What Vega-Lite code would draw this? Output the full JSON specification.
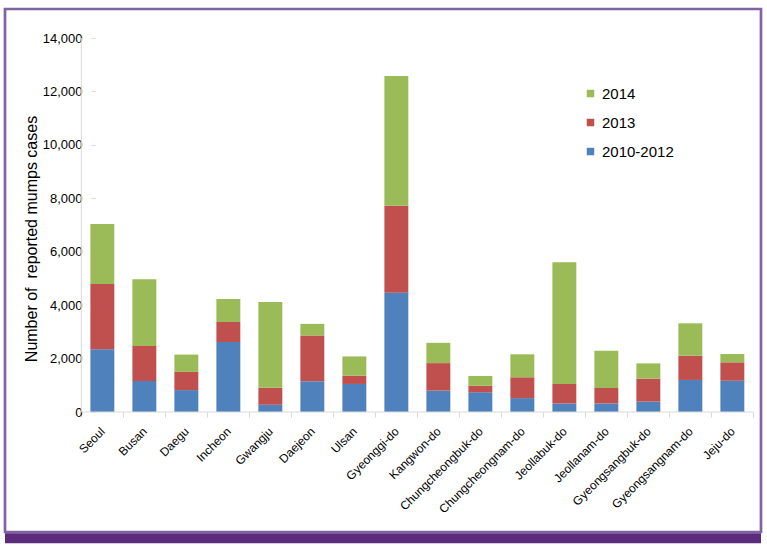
{
  "$schema": "https://vega.github.io/schema/vega-lite/v6.json",
  "width": 756,
  "height": 523,
  "autosize": {"type": "none"},
  "padding": {"left": 5, "top": 9, "right": 6, "bottom": 15},
  "background": "white",
  "config": {
    "font": "Liberation Sans",
    "view": {"stroke": "#8064A2", "strokeWidth": 2.7, "fill": "white"}
  },
  "data": {
    "values": [
      {"region": "Seoul", "series": "2010-2012", "cases": 2350},
      {"region": "Seoul", "series": "2013", "cases": 2440},
      {"region": "Seoul", "series": "2014", "cases": 2250},
      {"region": "Busan", "series": "2010-2012", "cases": 1160},
      {"region": "Busan", "series": "2013", "cases": 1310},
      {"region": "Busan", "series": "2014", "cases": 2500},
      {"region": "Daegu", "series": "2010-2012", "cases": 820},
      {"region": "Daegu", "series": "2013", "cases": 680},
      {"region": "Daegu", "series": "2014", "cases": 650},
      {"region": "Incheon", "series": "2010-2012", "cases": 2620},
      {"region": "Incheon", "series": "2013", "cases": 750},
      {"region": "Incheon", "series": "2014", "cases": 860},
      {"region": "Gwangju", "series": "2010-2012", "cases": 270},
      {"region": "Gwangju", "series": "2013", "cases": 640},
      {"region": "Gwangju", "series": "2014", "cases": 3210},
      {"region": "Daejeon", "series": "2010-2012", "cases": 1150},
      {"region": "Daejeon", "series": "2013", "cases": 1710},
      {"region": "Daejeon", "series": "2014", "cases": 440},
      {"region": "Ulsan", "series": "2010-2012", "cases": 1050},
      {"region": "Ulsan", "series": "2013", "cases": 310},
      {"region": "Ulsan", "series": "2014", "cases": 720},
      {"region": "Gyeonggi-do", "series": "2010-2012", "cases": 4460},
      {"region": "Gyeonggi-do", "series": "2013", "cases": 3260},
      {"region": "Gyeonggi-do", "series": "2014", "cases": 4860},
      {"region": "Kangwon-do", "series": "2010-2012", "cases": 800},
      {"region": "Kangwon-do", "series": "2013", "cases": 1030},
      {"region": "Kangwon-do", "series": "2014", "cases": 760},
      {"region": "Chungcheongbuk-do", "series": "2010-2012", "cases": 740},
      {"region": "Chungcheongbuk-do", "series": "2013", "cases": 240},
      {"region": "Chungcheongbuk-do", "series": "2014", "cases": 370},
      {"region": "Chungcheongnam-do", "series": "2010-2012", "cases": 520},
      {"region": "Chungcheongnam-do", "series": "2013", "cases": 780},
      {"region": "Chungcheongnam-do", "series": "2014", "cases": 860},
      {"region": "Jeollabuk-do", "series": "2010-2012", "cases": 320},
      {"region": "Jeollabuk-do", "series": "2013", "cases": 730},
      {"region": "Jeollabuk-do", "series": "2014", "cases": 4560},
      {"region": "Jeollanam-do", "series": "2010-2012", "cases": 320},
      {"region": "Jeollanam-do", "series": "2013", "cases": 580},
      {"region": "Jeollanam-do", "series": "2014", "cases": 1390},
      {"region": "Gyeongsangbuk-do", "series": "2010-2012", "cases": 390},
      {"region": "Gyeongsangbuk-do", "series": "2013", "cases": 860},
      {"region": "Gyeongsangbuk-do", "series": "2014", "cases": 570},
      {"region": "Gyeongsangnam-do", "series": "2010-2012", "cases": 1200},
      {"region": "Gyeongsangnam-do", "series": "2013", "cases": 910},
      {"region": "Gyeongsangnam-do", "series": "2014", "cases": 1210},
      {"region": "Jeju-do", "series": "2010-2012", "cases": 1170},
      {"region": "Jeju-do", "series": "2013", "cases": 690},
      {"region": "Jeju-do", "series": "2014", "cases": 310}
    ]
  },
  "layer": [
    {
      "data": {"values": [{}]},
      "mark": {"type": "rule", "color": "#5B2C7B", "strokeWidth": 10},
      "encoding": {"y": {"datum": -4728, "type": "quantitative"}}
    },
    {
      "mark": {"type": "bar", "width": {"band": 0.57}},
      "encoding": {
        "x": {
          "field": "region",
          "type": "nominal",
          "sort": null,
          "scale": {"paddingInner": 0, "paddingOuter": 1.206, "align": 0.909},
          "axis": {
            "title": null,
            "offset": -120,
            "domain": false,
            "grid": false,
            "tickBand": "extent",
            "tickColor": "#D9D9D9",
            "tickSize": 5,
            "labelAngle": -45,
            "labelAlign": "right",
            "labelBaseline": "middle",
            "labelPadding": 12,
            "labelFontSize": 12,
            "labelColor": "#000000",
            "labelOverlap": false
          }
        },
        "y": {
          "field": "cases",
          "type": "quantitative",
          "stack": "zero",
          "scale": {"domain": [-4492, 15086], "nice": false, "zero": false},
          "axis": {
            "title": "Number of\u00a0 reported mumps cases",
            "values": [0, 2000, 4000, 6000, 8000, 10000, 12000, 14000],
            "format": ",d",
            "offset": -90,
            "domain": false,
            "grid": false,
            "tickColor": "#D9D9D9",
            "tickSize": 4,
            "labelPadding": 9,
            "labelFontSize": 13,
            "labelColor": "#000000",
            "titleFontSize": 16,
            "titleFontWeight": "normal",
            "titleColor": "#000000",
            "titleAngle": -90,
            "titleX": -64,
            "titleY": 229.5,
            "titleAlign": "center",
            "titleBaseline": "middle"
          }
        },
        "color": {
          "field": "series",
          "type": "nominal",
          "scale": {"domain": ["2014", "2013", "2010-2012"], "range": ["#9BBB59", "#C0504D", "#4F81BD"]},
          "legend": {
            "orient": "none",
            "legendX": 578,
            "legendY": 77,
            "title": null,
            "symbolType": "square",
            "symbolSize": 56,
            "symbolStrokeWidth": 0,
            "labelFontSize": 15,
            "labelColor": "#000000",
            "rowPadding": 13,
            "labelOffset": 4,
            "padding": 0
          }
        },
        "order": {"field": "series", "sort": "ascending"}
      }
    },
    {
      "data": {"values": [{}]},
      "mark": {"type": "rule", "color": "#D9D9D9", "strokeWidth": 1},
      "encoding": {
        "x": {"datum": "Seoul", "type": "nominal", "bandPosition": 0},
        "y": {"datum": 0, "type": "quantitative"},
        "y2": {"datum": 14000}
      }
    },
    {
      "data": {"values": [{}]},
      "mark": {"type": "rule", "color": "#D9D9D9", "strokeWidth": 1},
      "encoding": {
        "x": {"datum": "Seoul", "type": "nominal", "bandPosition": 0},
        "x2": {"datum": "Jeju-do", "bandPosition": 1},
        "y": {"datum": 0, "type": "quantitative"}
      }
    }
  ]
}
